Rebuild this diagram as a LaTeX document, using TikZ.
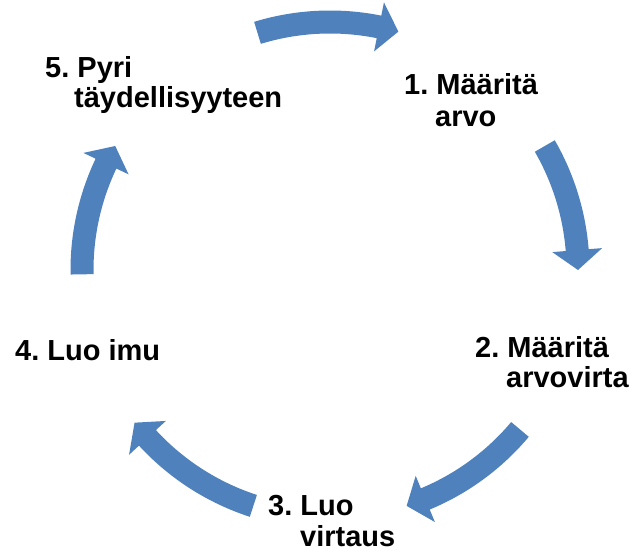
\documentclass[tikz,border=0pt]{standalone}
\usepackage{fontspec}
\setmainfont{Liberation Sans}
\usetikzlibrary{calc}
\frenchspacing
\definecolor{arrowblue}{HTML}{4F81BD}
\newcommand\cycarrow[2]{%
  \fill[arrowfill]
    ([shift={(C)}]#1:259.5pt) arc[start angle=#1, end angle=#2+4.6, radius=259.5pt]
    -- ([shift={(C)}]#2+4.6:273pt)
    -- ([shift={(C)}]#2:248pt)
    -- ([shift={(C)}]#2+4.6:223pt)
    -- ([shift={(C)}]#2+4.6:236.5pt)
    arc[start angle=#2+4.6, end angle=#1, radius=236.5pt] -- cycle;}
\begin{document}
\begin{tikzpicture}[x=1pt,y=1pt,
  arrowfill/.style={fill=arrowblue},
  lab/.style={anchor=base west, inner sep=0pt, font=\bfseries\fontsize{29}{31}\selectfont\frenchspacing, text=black}]
\useasboundingbox (0,0) rectangle (636,-553);
\coordinate (C) at (330,-270);
% arrows
\cycarrow{107}{74}
\cycarrow{30}{0}
\cycarrow{-40}{-72}
\cycarrow{-108}{-142}
\cycarrow{181}{150}
% labels
\node[lab] (l1a) at (404,-95) {1. Määritä};
\node[lab] (l1b) at (435,-127) {arvo};
\node[lab] (l2a) at (475,-357) {2. Määritä};
\node[lab] (l2b) at (506,-387) {arvovirta};
\node[lab] (l3a) at (268,-515) {3. Luo};
\node[lab] (l3b) at (300,-546) {virtaus};
\node[lab] (l4a) at (15,-360) {4. Luo imu};
\node[lab] (l5a) at (45,-78) {5. Pyri};
\node[lab] (l5b) at (74,-108) {täydellisyyteen};
\end{tikzpicture}
\end{document}
